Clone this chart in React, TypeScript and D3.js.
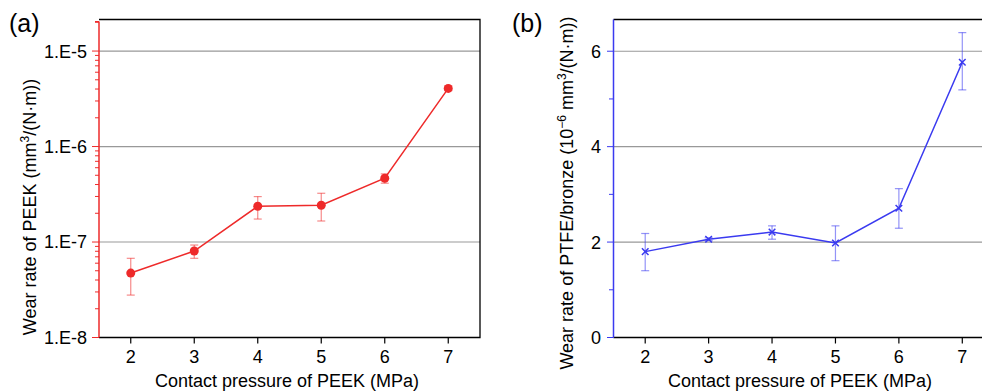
import React, { useEffect, useRef } from 'react';
import * as d3 from 'd3';

// contact pressure (MPa)
const pressures = [2, 3, 4, 5, 6, 7];

// (a) PEEK wear rate, mm3/(N·m)
const peekWear = [4.73e-8, 8.05e-8, 2.37e-7, 2.43e-7, 4.66e-7, 4.06e-6];
const peekLow = [2.78e-8, 6.75e-8, 1.74e-7, 1.66e-7, 4.13e-7, 3.85e-6];
const peekHigh = [6.75e-8, 9.3e-8, 2.99e-7, 3.24e-7, 5.17e-7, 4.3e-6];

// (b) PTFE/bronze wear rate, 1e-6 mm3/(N·m)
const ptfeWear = [1.8, 2.06, 2.21, 1.98, 2.71, 5.77];
const ptfeLow = [1.4, 2.03, 2.06, 1.61, 2.29, 5.19];
const ptfeHigh = [2.18, 2.09, 2.34, 2.34, 3.12, 6.39];

const logTicks = [1e-8, 1e-7, 1e-6, 1e-5];
const logTickLabels = ['1.E-8', '1.E-7', '1.E-6', '1.E-5'];
const linTicks = [0, 2, 4, 6];

const FONT = '"Liberation Sans", Arial, sans-serif';
const RED = '#ee2a2a';
const BLUE = '#3a3af0';
const FS = 18;

const App: React.FC = () => {
  const svgRef = useRef<SVGSVGElement>(null);

  useEffect(() => {
    if (!svgRef.current) return;
    const svg = d3.select(svgRef.current);
    svg.selectAll('*').remove();
    svg.style('font-family', FONT);

    const top = 19.5;
    const bottom = 337.5;

    // ---------- panel (a) ----------
    const ax = d3.scaleLinear().domain([1.5, 7.5]).range([99, 480]);
    const ay = d3.scaleLog().domain([1e-8, 2.14e-5]).range([bottom, top]);
    const ga = svg.append('g');

    // gridlines
    ga.selectAll('.grid')
      .data(logTicks.slice(1))
      .enter()
      .append('line')
      .attr('x1', 99).attr('x2', 480)
      .attr('y1', d => ay(d)).attr('y2', d => ay(d))
      .attr('stroke', '#999').attr('stroke-width', 1.2);

    // frame
    ga.append('path')
      .attr('d', `M99,${top}H480V${bottom}H99`)
      .attr('fill', 'none').attr('stroke', '#000').attr('stroke-width', 1.3);

    // minor log ticks
    const minor: number[] = [];
    for (let e = -8; e <= -5; e++) {
      for (let m = 2; m <= 9; m++) {
        const v = m * Math.pow(10, e);
        if (v <= 2.14e-5) minor.push(v);
      }
    }
    ga.selectAll('.minor')
      .data(minor)
      .enter()
      .append('line')
      .attr('x1', 95).attr('x2', 99)
      .attr('y1', d => ay(d)).attr('y2', d => ay(d))
      .attr('stroke', RED).attr('stroke-width', 1);
    ga.selectAll('.major')
      .data(logTicks)
      .enter()
      .append('line')
      .attr('x1', 92).attr('x2', 99)
      .attr('y1', d => ay(d)).attr('y2', d => ay(d))
      .attr('stroke', RED).attr('stroke-width', 1);
    ga.append('line')
      .attr('x1', 99).attr('x2', 99).attr('y1', top + 2).attr('y2', bottom)
      .attr('stroke', RED).attr('stroke-width', 1.5);
    ga.append('line')
      .attr('x1', 95).attr('x2', 99).attr('y1', top + 2).attr('y2', top + 2)
      .attr('stroke', RED).attr('stroke-width', 1);

    ga.selectAll('.ylab')
      .data(logTicks)
      .enter()
      .append('text')
      .attr('x', 87)
      .attr('y', d => ay(d))
      .attr('dy', '0.36em')
      .attr('text-anchor', 'end')
      .attr('font-size', FS)
      .text((d, i) => logTickLabels[i]);

    // x ticks
    ga.selectAll('.xt')
      .data(pressures)
      .enter()
      .append('line')
      .attr('x1', d => ax(d)).attr('x2', d => ax(d))
      .attr('y1', bottom).attr('y2', bottom + 6)
      .attr('stroke', '#000').attr('stroke-width', 1.2);
    ga.selectAll('.xl')
      .data(pressures)
      .enter()
      .append('text')
      .attr('x', d => ax(d)).attr('y', 357)
      .attr('dy', '0.36em')
      .attr('text-anchor', 'middle')
      .attr('font-size', FS)
      .text(d => d);

    ga.append('text')
      .attr('x', 287).attr('y', 381).attr('dy', '0.36em')
      .attr('text-anchor', 'middle').attr('font-size', FS)
      .text('Contact pressure of PEEK (MPa)');

    const ta = ga.append('text')
      .attr('transform', 'translate(30,207) rotate(-90)')
      .attr('text-anchor', 'middle').attr('font-size', FS)
      .attr('dy', '0.36em');
    ta.append('tspan').text('Wear rate of PEEK (mm');
    ta.append('tspan').attr('dy', -7).attr('font-size', 12).text('3');
    ta.append('tspan').attr('dy', 7).text('/(N·m))');

    ga.append('text')
      .attr('x', 9).attr('y', 32).attr('font-size', 25).text('(a)');

    // error bars
    const ea = ga.append('g').attr('stroke', RED).attr('stroke-opacity', 0.55).attr('stroke-width', 1.2);
    pressures.forEach((p, i) => {
      const x = ax(p);
      ea.append('line').attr('x1', x).attr('x2', x).attr('y1', ay(peekLow[i])).attr('y2', ay(peekHigh[i]));
      ea.append('line').attr('x1', x - 4).attr('x2', x + 4).attr('y1', ay(peekLow[i])).attr('y2', ay(peekLow[i]));
      ea.append('line').attr('x1', x - 4).attr('x2', x + 4).attr('y1', ay(peekHigh[i])).attr('y2', ay(peekHigh[i]));
    });

    const lineA = d3.line<number>()
      .x((d, i) => ax(pressures[i]))
      .y(d => ay(d));
    ga.append('path')
      .datum(peekWear)
      .attr('fill', 'none').attr('stroke', RED).attr('stroke-width', 1.5)
      .attr('d', lineA);
    ga.selectAll('.dot')
      .data(peekWear)
      .enter()
      .append('circle')
      .attr('cx', (d, i) => ax(pressures[i]))
      .attr('cy', d => ay(d))
      .attr('r', 4.5)
      .attr('fill', RED);

    // ---------- panel (b) ----------
    const bx = d3.scaleLinear().domain([1.5, 7.5]).range([613.5, 994]);
    const by = d3.scaleLinear().domain([0, 6.665]).range([bottom, top]);
    const gb = svg.append('g');

    gb.selectAll('.grid')
      .data(linTicks.slice(1))
      .enter()
      .append('line')
      .attr('x1', 613.5).attr('x2', 994)
      .attr('y1', d => by(d)).attr('y2', d => by(d))
      .attr('stroke', '#999').attr('stroke-width', 1.2);

    gb.append('path')
      .attr('d', `M613.5,${top}H994V${bottom}H613.5`)
      .attr('fill', 'none').attr('stroke', '#000').attr('stroke-width', 1.3);

    gb.selectAll('.minor')
      .data([1, 3, 5])
      .enter()
      .append('line')
      .attr('x1', 609).attr('x2', 613.5)
      .attr('y1', d => by(d)).attr('y2', d => by(d))
      .attr('stroke', BLUE).attr('stroke-width', 1);
    gb.selectAll('.major')
      .data(linTicks)
      .enter()
      .append('line')
      .attr('x1', 607).attr('x2', 613.5)
      .attr('y1', d => by(d)).attr('y2', d => by(d))
      .attr('stroke', BLUE).attr('stroke-width', 1);
    gb.append('line')
      .attr('x1', 613.5).attr('x2', 613.5).attr('y1', top).attr('y2', bottom)
      .attr('stroke', BLUE).attr('stroke-width', 1.5);

    gb.selectAll('.ylab')
      .data(linTicks)
      .enter()
      .append('text')
      .attr('x', 601)
      .attr('y', d => by(d))
      .attr('dy', '0.36em')
      .attr('text-anchor', 'end')
      .attr('font-size', FS)
      .text(d => d);

    gb.selectAll('.xt')
      .data(pressures)
      .enter()
      .append('line')
      .attr('x1', d => bx(d)).attr('x2', d => bx(d))
      .attr('y1', bottom).attr('y2', bottom + 6)
      .attr('stroke', '#000').attr('stroke-width', 1.2);
    gb.selectAll('.xl')
      .data(pressures)
      .enter()
      .append('text')
      .attr('x', d => bx(d)).attr('y', 357)
      .attr('dy', '0.36em')
      .attr('text-anchor', 'middle')
      .attr('font-size', FS)
      .text(d => d);

    gb.append('text')
      .attr('x', 800).attr('y', 381).attr('dy', '0.36em')
      .attr('text-anchor', 'middle').attr('font-size', FS)
      .text('Contact pressure of PEEK (MPa)');

    const tb = gb.append('text')
      .attr('transform', 'translate(567,193) rotate(-90)')
      .attr('text-anchor', 'middle').attr('font-size', FS)
      .attr('dy', '0.36em');
    tb.append('tspan').text('Wear rate of PTFE/bronze (10');
    tb.append('tspan').attr('dy', -7).attr('font-size', 12).text('−6');
    tb.append('tspan').attr('dy', 7).text(' mm');
    tb.append('tspan').attr('dy', -7).attr('font-size', 12).text('3');
    tb.append('tspan').attr('dy', 7).text('/(N·m))');

    gb.append('text')
      .attr('x', 512).attr('y', 32).attr('font-size', 25).text('(b)');

    const eb = gb.append('g').attr('stroke', BLUE).attr('stroke-opacity', 0.55).attr('stroke-width', 1.2);
    pressures.forEach((p, i) => {
      const x = bx(p);
      eb.append('line').attr('x1', x).attr('x2', x).attr('y1', by(ptfeLow[i])).attr('y2', by(ptfeHigh[i]));
      eb.append('line').attr('x1', x - 4).attr('x2', x + 4).attr('y1', by(ptfeLow[i])).attr('y2', by(ptfeLow[i]));
      eb.append('line').attr('x1', x - 4).attr('x2', x + 4).attr('y1', by(ptfeHigh[i])).attr('y2', by(ptfeHigh[i]));
    });

    const lineB = d3.line<number>()
      .x((d, i) => bx(pressures[i]))
      .y(d => by(d));
    gb.append('path')
      .datum(ptfeWear)
      .attr('fill', 'none').attr('stroke', BLUE).attr('stroke-width', 1.5)
      .attr('d', lineB);
    const cross = d3.symbol().type(d3.symbolX).size(30);
    gb.selectAll('.mark')
      .data(ptfeWear)
      .enter()
      .append('path')
      .attr('d', cross)
      .attr('transform', (d, i) => `translate(${bx(pressures[i])},${by(d)})`)
      .attr('fill', 'none')
      .attr('stroke', BLUE)
      .attr('stroke-width', 1.5);
  }, []);

  return (
    <svg
      ref={svgRef}
      width={982}
      height={392}
      style={{ position: 'absolute', left: 0, top: 0, background: '#fff' }}
    />
  );
};

export default App;
